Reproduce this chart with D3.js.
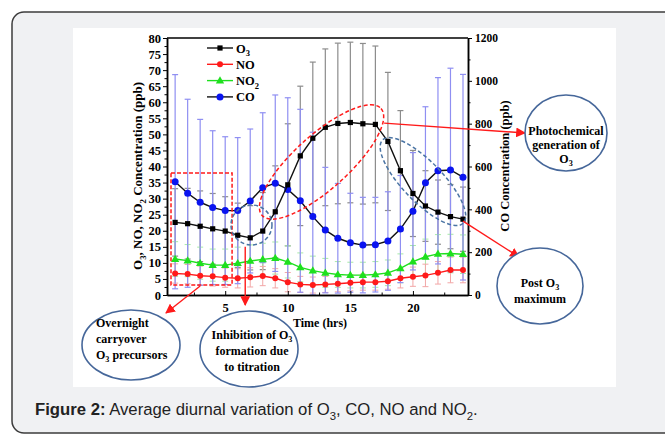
<!DOCTYPE html>
<html>
<head>
<meta charset="utf-8">
<script src="https://cdn.jsdelivr.net/npm/d3@7"></script>
<style>
  body { margin: 0; background: #fff; }
  svg { display: block; }
  .ax text { font-family: "Liberation Serif", serif; font-weight: bold; fill: #000; }
  .ax path, .ax line { stroke: #000; }
  .lbl { font-family: "Liberation Serif", serif; font-weight: bold; fill: #000; }
</style>
</head>
<body>
<svg id="chart" width="665" height="434"></svg>
<script>
// hour of day
var hours = [1, 2, 3, 4, 5, 6, 7, 8, 9, 10, 11, 12, 13, 14, 15, 16, 17, 18, 19, 20, 21, 22, 23, 24];

// O3, NO, NO2 in ppb (left axis), CO in ppb (right axis)
var o3    = [22.6, 22.2, 21.4, 20.6, 19.9, 18.6, 17.8, 19.9, 25.9, 34.3, 43.3, 48.8, 52.2, 53.4, 53.7, 53.3, 53.1, 47.8, 38.7, 31.6, 27.7, 25.8, 24.4, 23.6];
var o3Err = [10.5, 11, 11, 11, 10.7, 10, 10, 12, 14.3, 19, 21.7, 23.7, 24.4, 25, 25, 25, 24.4, 21.5, 18.7, 13.4, 11, 10, 10, 10];
var no    = [6.7, 6.5, 6.0, 5.8, 5.4, 5.2, 5.5, 5.9, 5.2, 4.0, 3.3, 3.1, 3.3, 3.5, 3.8, 4.0, 4.0, 4.3, 5.2, 5.7, 6.1, 6.9, 7.8, 7.8];
var noErr = [3, 3, 3, 3, 3, 3, 3, 3, 3, 3, 2.5, 2.5, 2.5, 2.5, 2.5, 2.5, 2.5, 2.5, 3, 3, 3.5, 3.5, 4, 4];
var no2    = [11.2, 10.7, 9.9, 9.3, 9.3, 9.9, 10.6, 11.1, 11.5, 10.3, 8.6, 7.6, 6.9, 6.4, 6.2, 6.2, 6.4, 6.9, 8.3, 10.4, 11.9, 12.8, 12.9, 12.7];
var no2Err = [5.4, 5, 5, 5, 5, 5, 5, 5, 5, 5, 4.5, 4.5, 4.5, 4, 4, 4, 4, 4, 4.5, 5, 5.5, 6, 6, 6];
var co    = [529, 475, 433, 408, 394, 394, 439, 501, 522, 493, 440, 366, 303, 265, 244, 233, 235, 252, 308, 391, 524, 580, 584, 550];
var coErr = [500, 439, 387, 359, 345, 341, 336, 350, 412, 428, 427, 394, 293, 256, 231, 223, 221, 230, 250, 274, 355, 435, 475, 480];

// axis ticks
var leftTicks  = [0, 5, 10, 15, 20, 25, 30, 35, 40, 45, 50, 55, 60, 65, 70, 75, 80];
var rightTicks = [0, 200, 400, 600, 800, 1000, 1200];
var xTicks     = [5, 10, 15, 20];

var svg = d3.select("#chart");

// page frame
svg.append("rect")
  .attr("x", 12).attr("y", 12).attr("width", 720).attr("height", 421)
  .attr("rx", 12)
  .attr("fill", "#f0f1f3").attr("stroke", "#3c3c3c").attr("stroke-width", 1.5);
svg.append("rect")
  .attr("x", 73).attr("y", 28).attr("width", 543).attr("height", 359)
  .attr("fill", "#fff");

var margin = { left: 167, right: 468, top: 38, bottom: 295 };

var x = d3.scaleLinear().domain([0.35, 24.4]).range([margin.left, margin.right]);
var yL = d3.scaleLinear().domain([0, 80]).range([margin.bottom, margin.top]);
var yR = d3.scaleLinear().domain([0, 1200]).range([margin.bottom, margin.top]);

// helper for text with subscripts: parts = [[string, isSub], ...]
function richText(t, parts, size) {
  parts.forEach(function(p, i) {
    var prevSub = i > 0 && parts[i - 1][1];
    var ts = t.append("tspan").text(p[0]);
    if (p[1]) ts.attr("font-size", size * 0.68).attr("dy", size * 0.28);
    else if (prevSub) ts.attr("dy", -size * 0.28);
  });
  return t;
}

// ---------- error bars ----------
function errBars(vals, errs, scale, color, width) {
  var g = svg.append("g").attr("stroke", color).attr("stroke-width", width);
  var data = hours.map(function(h, i) { return { h: h, v: vals[i], e: errs[i] }; });
  g.selectAll(".v").data(data).enter().append("line")
    .attr("x1", d => x(d.h)).attr("x2", d => x(d.h))
    .attr("y1", d => scale(Math.max(0, d.v - d.e))).attr("y2", d => scale(d.v + d.e));
  [1, -1].forEach(function(s) {
    g.selectAll(".c" + s).data(data).enter().append("line")
      .attr("x1", d => x(d.h) - 3).attr("x2", d => x(d.h) + 3)
      .attr("y1", d => scale(Math.max(0, d.v + s * d.e)))
      .attr("y2", d => scale(Math.max(0, d.v + s * d.e)));
  });
}
errBars(o3, o3Err, yL, "#8c8c8c", 1.2);
errBars(no2, no2Err, yL, "#a6eaa6", 1);
errBars(no, noErr, yL, "#f2a6a6", 1);
errBars(co, coErr, yR, "#8f8ff2", 1.2);

// ---------- series ----------
var series = [
  { vals: no2, scale: yL, line: "#1ee01e", fill: "#1ee01e", shape: "triangle" },
  { vals: no, scale: yL, line: "#ff1a1a", fill: "#ff1a1a", shape: "circle" },
  { vals: co, scale: yR, line: "#111", fill: "#0a14f0", shape: "circle" },
  { vals: o3, scale: yL, line: "#111", fill: "#000", shape: "square" }
];

function drawMarker(g, shape, fill, cx, cy, big) {
  if (shape === "circle") {
    g.append("circle").attr("cx", cx).attr("cy", cy).attr("r", big ? 3.5 : 3).attr("fill", fill);
  } else if (shape === "square") {
    g.append("rect").attr("x", cx - 2.6).attr("y", cy - 2.6).attr("width", 5.2).attr("height", 5.2).attr("fill", fill);
  } else {
    g.append("path").attr("transform", "translate(" + cx + "," + (cy + 0.5) + ")")
      .attr("d", d3.symbol().type(d3.symbolTriangle).size(30)).attr("fill", fill);
  }
}

series.forEach(function(s) {
  var line = d3.line().x((d, i) => x(hours[i])).y(d => s.scale(d));
  svg.append("path").datum(s.vals)
    .attr("d", line).attr("fill", "none")
    .attr("stroke", s.line).attr("stroke-width", 1.4);
  var g = svg.append("g");
  s.vals.forEach(function(v, i) {
    drawMarker(g, s.shape, s.fill, x(hours[i]), s.scale(v), s.vals === co);
  });
});

// ---------- axes ----------
function minor(ticks, step) {
  return ticks.slice(0, -1).map(function(t) { return t + step; });
}

var axL = svg.append("g").attr("class", "ax").attr("transform", "translate(" + margin.left + ",0)")
  .call(d3.axisLeft(yL).tickValues(leftTicks).tickSize(4).tickPadding(2).tickSizeOuter(0));
axL.selectAll("text").attr("font-size", 12.5);
svg.append("g").attr("class", "ax").attr("transform", "translate(" + margin.left + ",0)")
  .call(d3.axisLeft(yL).tickValues(minor(leftTicks, 2.5)).tickSize(2.5).tickFormat("").tickSizeOuter(0));

var axR = svg.append("g").attr("class", "ax").attr("transform", "translate(" + margin.right + ",0)")
  .call(d3.axisRight(yR).tickValues(rightTicks).tickFormat(d3.format("d"))
    .tickSize(4).tickPadding(3).tickSizeOuter(0));
axR.selectAll("text").attr("font-size", 11.5);
svg.append("g").attr("class", "ax").attr("transform", "translate(" + margin.right + ",0)")
  .call(d3.axisRight(yR).tickValues(minor(rightTicks, 100)).tickSize(2.5).tickFormat("").tickSizeOuter(0));

var axB = svg.append("g").attr("class", "ax").attr("transform", "translate(0," + margin.bottom + ")")
  .call(d3.axisBottom(x).tickValues(xTicks).tickSize(-4).tickPadding(8).tickSizeOuter(0));
axB.selectAll("text").attr("font-size", 12.5);
svg.append("g").attr("class", "ax").attr("transform", "translate(0," + margin.bottom + ")")
  .call(d3.axisBottom(x).tickValues([2.5, 7.5, 12.5, 17.5, 22.5]).tickSize(-2.5).tickFormat("").tickSizeOuter(0));

svg.selectAll(".ax path").attr("stroke-width", 1.5);
// top frame line
svg.append("line")
  .attr("x1", margin.left).attr("x2", margin.right)
  .attr("y1", margin.top).attr("y2", margin.top)
  .attr("stroke", "#000").attr("stroke-width", 1.5);

// axis titles
richText(svg.append("text").attr("class", "lbl").attr("font-size", 13)
  .attr("text-anchor", "middle")
  .attr("transform", "translate(142,176) rotate(-90)"),
  [["O", 0], ["3", 1], [", NO, NO", 0], ["2", 1], [" Concentration (ppb)", 0]], 13);

svg.append("text").attr("class", "lbl").attr("font-size", 12.5)
  .attr("text-anchor", "middle")
  .attr("transform", "translate(509,166) rotate(-90)")
  .text("CO Concentration (ppb)");

svg.append("text").attr("class", "lbl").attr("font-size", 12)
  .attr("x", 293).attr("y", 327).text("Time (hrs)");

// ---------- legend ----------
var legendItems = [
  { name: [["O", 0], ["3", 1]], line: "#111", fill: "#000", shape: "square" },
  { name: [["NO", 0]], line: "#ff1a1a", fill: "#ff1a1a", shape: "circle" },
  { name: [["NO", 0], ["2", 1]], line: "#1ee01e", fill: "#1ee01e", shape: "triangle" },
  { name: [["CO", 0]], line: "#111", fill: "#0a14f0", shape: "circle" }
];
legendItems.forEach(function(d, i) {
  var ly = 48 + i * 16.3;
  var g = svg.append("g");
  g.append("line").attr("x1", 207).attr("x2", 233).attr("y1", ly).attr("y2", ly)
    .attr("stroke", d.line).attr("stroke-width", 1.4);
  drawMarker(g, d.shape, d.fill, 220, ly, d.name[0][0] === "CO");
  richText(g.append("text").attr("class", "lbl").attr("font-size", 12.5)
    .attr("x", 236).attr("y", ly + 4.5), d.name, 12.5);
});

// ---------- annotations ----------
// dashed red box over the night hours
svg.append("rect")
  .attr("x", x(0.67)).attr("y", yL(38))
  .attr("width", x(5.55) - x(0.67)).attr("height", yL(3.1) - yL(38))
  .attr("fill", "none").attr("stroke", "#ff1a1a").attr("stroke-width", 1.5)
  .attr("stroke-dasharray", "4,2");

// dashed ellipses around features: [hour, ppb(left), rx, ry, angle, colour]
var rings = [
  [12.7, 41.4, 80, 27, -42, "#ff1a1a"],
  [7.1, 21.8, 20.5, 20, 0, "#4a74a4"],
  [20.8, 35.3, 58, 20, 46, "#4a74a4"]
];
rings.forEach(function(r) {
  svg.append("ellipse")
    .attr("transform", "translate(" + x(r[0]) + "," + yL(r[1]) + ") rotate(" + r[4] + ")")
    .attr("rx", r[2]).attr("ry", r[3])
    .attr("fill", "none").attr("stroke", r[5]).attr("stroke-width", 1.5)
    .attr("stroke-dasharray", "4,2.5");
});

// callout bubbles
var bubbles = [
  { cx: 566, cy: 133, rx: 41, ry: 38, anchor: "middle", tx: 566, ty: 135, gap: 14,
    lines: [[["Photochemical", 0]], [["generation of", 0]], [["O", 0], ["3", 1]]] },
  { cx: 540, cy: 286, rx: 43, ry: 38, anchor: "middle", tx: 540, ty: 287, gap: 16,
    lines: [[["Post O", 0], ["3", 1]], [["maximum", 0]]] },
  { cx: 131, cy: 345, rx: 49, ry: 35, anchor: "start", tx: 96, ty: 327, gap: 16,
    lines: [[["Overnight", 0]], [["carryover", 0]], [["O", 0], ["3", 1], [" precursors", 0]]] },
  { cx: 249, cy: 349, rx: 49, ry: 38, anchor: "middle", tx: 252, ty: 339, gap: 16,
    lines: [[["Inhibition of O", 0], ["3", 1]], [["formation due", 0]], [["to titration", 0]]] }
];

// arrows: from chart feature to bubble edge
svg.append("defs").append("marker")
  .attr("id", "ah").attr("viewBox", "0 0 10 10").attr("refX", 9).attr("refY", 5)
  .attr("markerWidth", 7).attr("markerHeight", 7).attr("orient", "auto")
  .append("path").attr("d", "M0,0L10,5L0,10z").attr("fill", "#ff1a1a");

var arrows = [
  [x(17.7), yL(53.5), 525, 133],
  [x(24), yL(23), 519, 257],
  [x(3.0), yL(2.8), 166, 313],
  [x(6.6), yL(15), x(6.6), 305]
];
arrows.forEach(function(a) {
  svg.append("line").attr("x1", a[0]).attr("y1", a[1]).attr("x2", a[2]).attr("y2", a[3])
    .attr("stroke", "#ff1a1a").attr("stroke-width", 1.4).attr("marker-end", "url(#ah)");
});

bubbles.forEach(function(b) {
  svg.append("ellipse").attr("cx", b.cx).attr("cy", b.cy).attr("rx", b.rx).attr("ry", b.ry)
    .attr("fill", "#fff").attr("stroke", "#46679a").attr("stroke-width", 1.6);
  b.lines.forEach(function(l, i) {
    richText(svg.append("text").attr("class", "lbl").attr("font-size", 12)
      .attr("text-anchor", b.anchor).attr("x", b.tx).attr("y", b.ty + i * b.gap), l, 12);
  });
});

// ---------- caption ----------
var cap = svg.append("text").attr("x", 35).attr("y", 415)
  .attr("font-family", "'Liberation Sans', Arial, sans-serif").attr("font-size", 16.7).attr("fill", "#222");
cap.append("tspan").attr("font-weight", "bold").text("Figure 2:");
richText(cap, [[" Average diurnal variation of O", 0], ["3", 1], [", CO, NO and NO", 0], ["2", 1], [".", 0]], 16.7);
</script>
</body>
</html>
